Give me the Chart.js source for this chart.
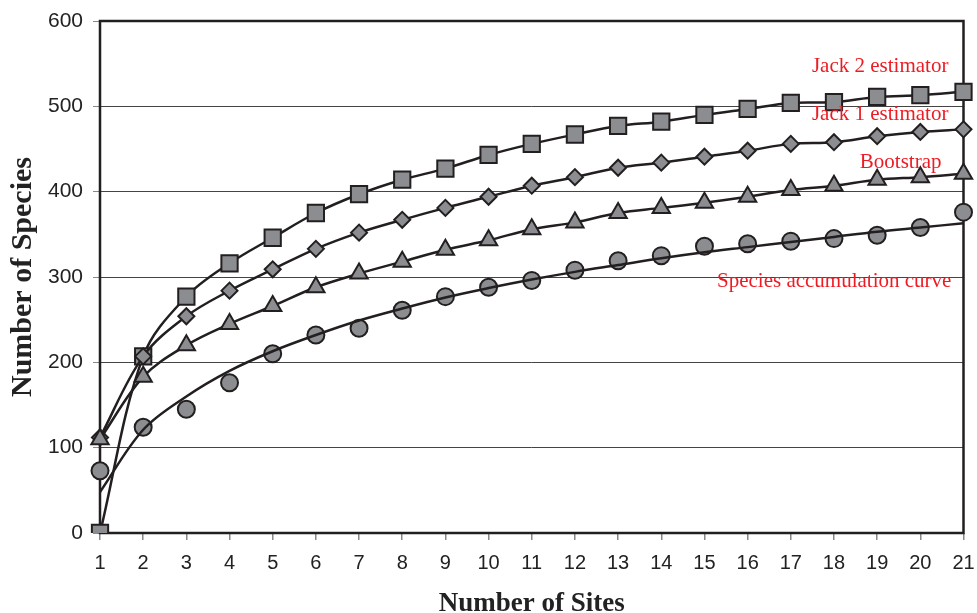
<!DOCTYPE html>
<html>
<head>
<meta charset="utf-8">
<title>Species accumulation</title>
<script src="https://cdn.jsdelivr.net/npm/chart.js@4/dist/chart.umd.min.js"></script>
<style>
  html, body { margin: 0; padding: 0; background: #fff; }
  canvas { display: block; }
</style>
</head>
<body>
<canvas id="chart" width="977" height="613"></canvas>
<script>
// ---- data ----
const sites = ["1","2","3","4","5","6","7","8","9","10","11","12","13","14","15","16","17","18","19","20","21"];
const jack2 = [0, 207, 277, 316, 346, 375, 397, 414, 427, 443, 456, 467, 477, 482, 490, 497, 504, 505, 511, 513, 517];
const jack1 = [112, 207, 254, 284, 309, 333, 352, 367, 381, 394, 407, 417, 428, 434, 441, 448, 456, 458, 465, 470, 473];
const bootstrap = [110, 183, 220, 245, 266, 288, 304, 318, 332, 343, 356, 364, 375, 381, 387, 394, 402, 407, 414, 417, 421];
const observed = [73, 124, 145, 176, 210, 232, 240, 261, 277, 288, 296, 308, 319, 325, 336, 339, 342, 345, 349, 358, 376];
const observedTrend = [48, 121, 160, 190, 213, 232, 249, 263, 276, 287, 297, 306, 314, 322, 329, 335, 341, 347, 353, 358, 363];
const yTicks = [0, 100, 200, 300, 400, 500, 600];

const INK = "#231f20";
const FILL = "#8c8d91";
const SANS = "'Liberation Sans', Arial, sans-serif";
const SERIF = "'Liberation Serif', 'Times New Roman', serif";

const base = {
  borderColor: INK,
  borderWidth: 2.5,
  pointBackgroundColor: FILL,
  pointBorderColor: INK,
  pointBorderWidth: 2,
  tension: 0.35,
  fill: false,
};

// red series labels, right aligned, anchored in data units (x = site number)
const seriesLabels = [
  { text: "Jack 2 estimator", x: 20.65, y: 547 },
  { text: "Jack 1 estimator", x: 20.65, y: 491 },
  { text: "Bootstrap", x: 20.49, y: 434 },
  { text: "Species accumulation curve", x: 20.72, y: 295 },
];

const frameAndLabels = {
  id: "frameAndLabels",
  beforeDatasetsDraw(chart) {
    const { ctx, chartArea: a } = chart;
    ctx.save();
    ctx.strokeStyle = INK;
    ctx.lineWidth = 2.5;
    ctx.strokeRect(a.left, a.top, a.right - a.left, a.bottom - a.top);
    ctx.restore();
  },
  afterDatasetsDraw(chart) {
    const { ctx, scales } = chart;
    ctx.save();
    ctx.fillStyle = "#ed1c24";
    ctx.font = "21px " + SERIF;
    ctx.textAlign = "right";
    ctx.textBaseline = "middle";
    seriesLabels.forEach((l) => {
      ctx.fillText(l.text, scales.x.getPixelForValue(l.x - 1), scales.y.getPixelForValue(l.y));
    });
    ctx.restore();
  },
};

new Chart(document.getElementById("chart"), {
  type: "line",
  data: {
    labels: sites,
    datasets: [
      { ...base, label: "Species accumulation curve (fit)", data: observedTrend, pointRadius: 0 },
      { ...base, label: "Species accumulation curve", data: observed, showLine: false,
        pointStyle: "circle", pointRadius: 8.5 },
      { ...base, label: "Bootstrap", data: bootstrap, pointStyle: "triangle", pointRadius: 10 },
      { ...base, label: "Jack 1 estimator", data: jack1, pointStyle: "rectRot", pointRadius: 8 },
      { ...base, label: "Jack 2 estimator", data: jack2, pointStyle: "rect", pointRadius: 11.5 },
    ],
  },
  options: {
    responsive: false,
    animation: false,
    layout: { padding: { top: 21, right: 11, left: 0, bottom: 0 } },
    plugins: { legend: { display: false }, tooltip: { enabled: false } },
    scales: {
      x: {
        offset: false,
        grid: { drawOnChartArea: false, tickLength: 7, tickColor: "#888", lineWidth: 1.5 },
        border: { display: false },
        ticks: { color: "#222", padding: 11, maxRotation: 0, autoSkip: false,
          font: { family: SANS, size: 20 } },
        title: { display: true, text: "Number of Sites", color: "#222",
          padding: { top: 0, bottom: 0 },
          font: { family: SERIF, size: 27, weight: "bold", lineHeight: 0.7 } },
        afterFit: (s) => { s.height = 80; s.paddingLeft = 0; s.paddingRight = 0; },
      },
      y: {
        min: 0,
        max: 600,
        afterBuildTicks: (s) => { s.ticks = yTicks.map((v) => ({ value: v })); },
        grid: { color: "#444", lineWidth: 1, tickLength: 7, tickColor: "#888" },
        border: { display: false },
        ticks: { color: "#222", padding: 10, font: { family: SANS, size: 21 } },
        title: { display: true, text: "Number of Species", color: "#222",
          padding: { top: 8, bottom: 0 },
          font: { family: SERIF, size: 30, weight: "bold", lineHeight: 1 } },
        afterFit: (s) => { s.width = 100; s.paddingTop = 0; s.paddingBottom = 0; },
      },
    },
  },
  plugins: [frameAndLabels],
});
</script>
</body>
</html>
